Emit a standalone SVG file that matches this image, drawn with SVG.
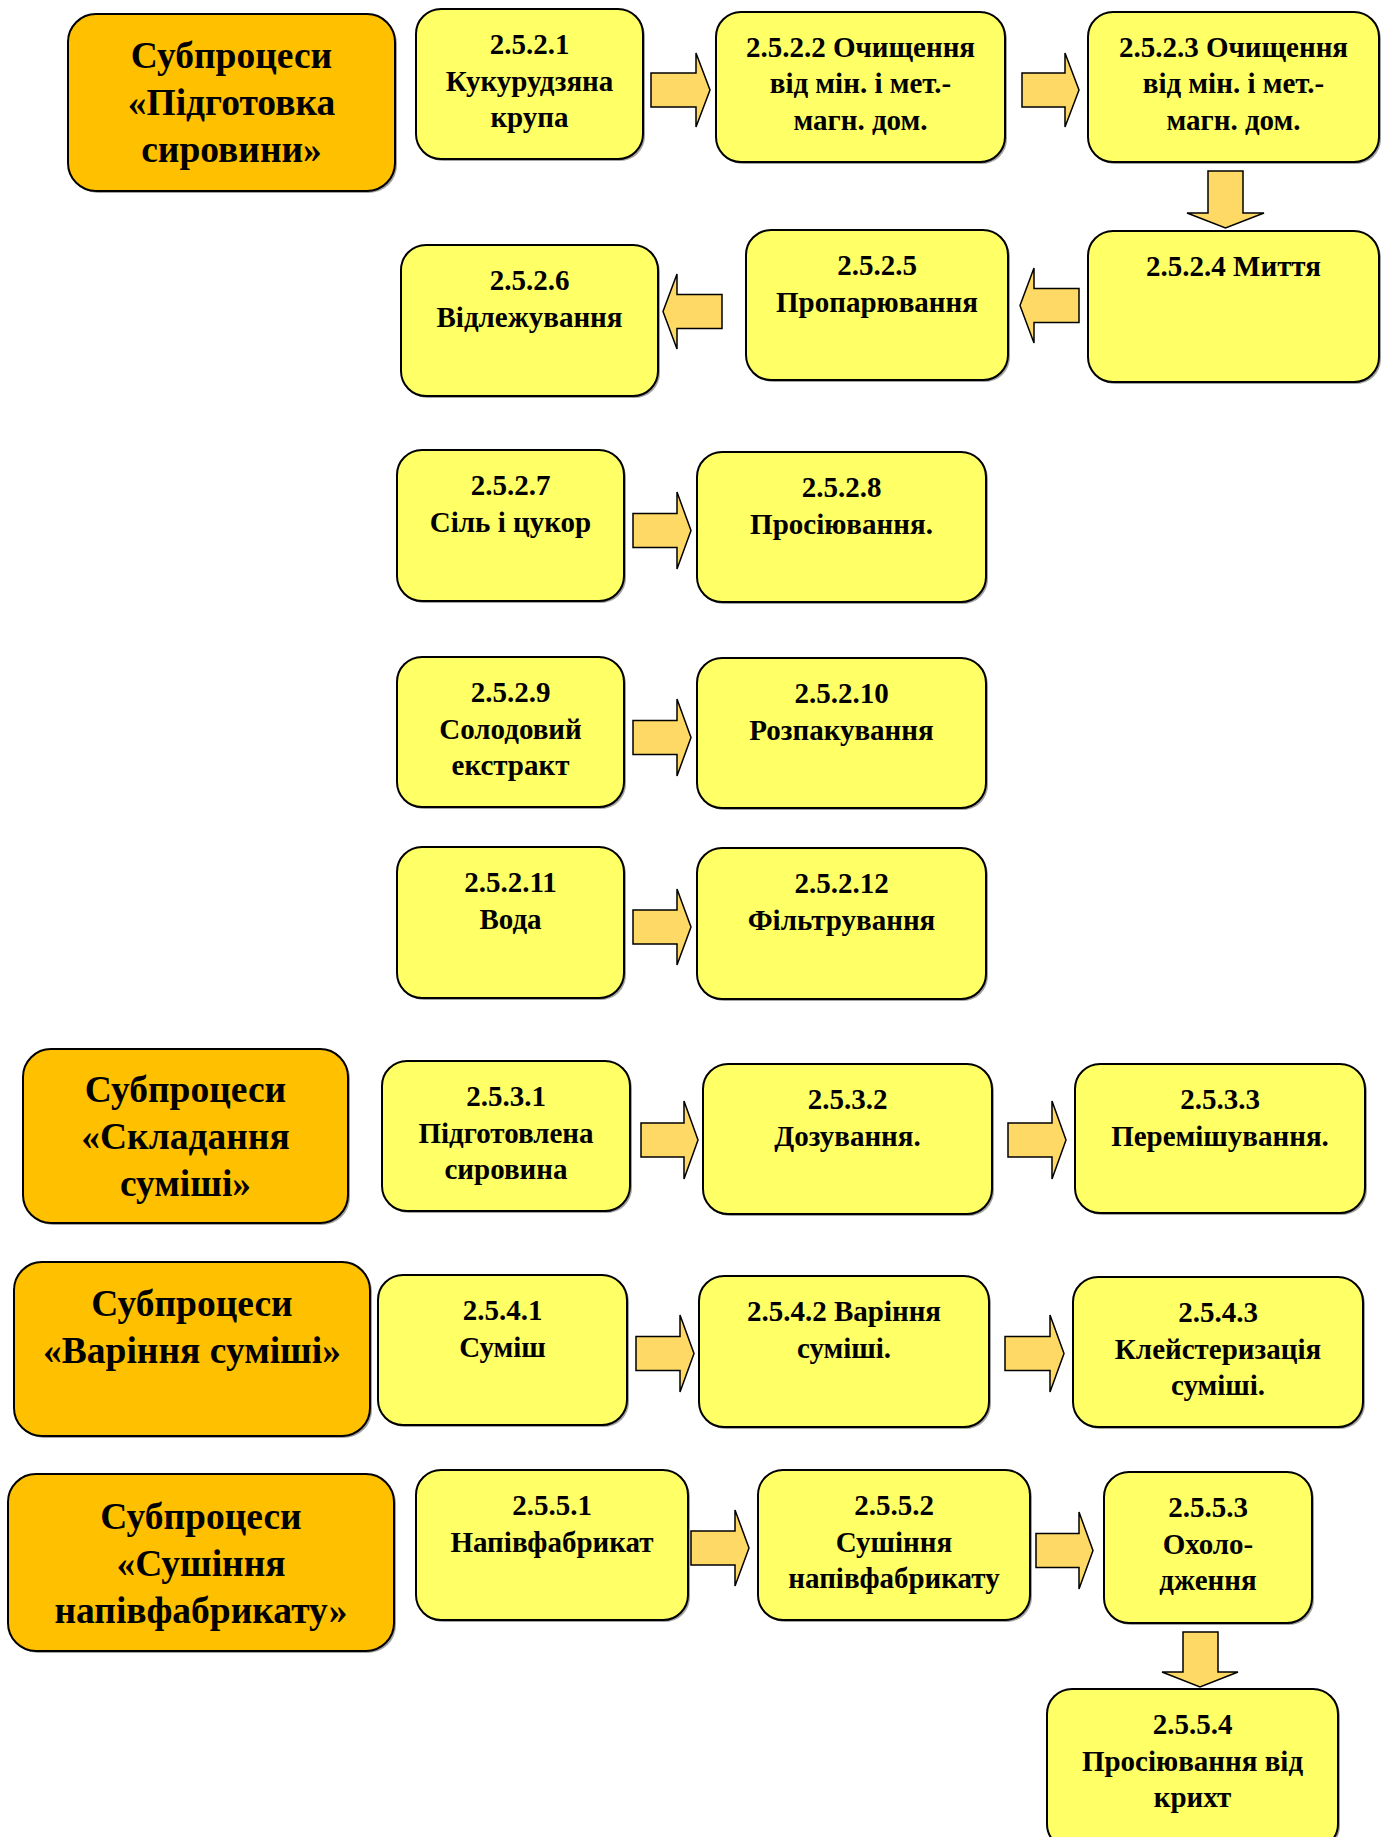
<svg xmlns="http://www.w3.org/2000/svg" width="1386" height="1837" viewBox="0 0 1386 1837">
<style>
.bg{fill:#ffffff}
.node{fill:#FFFF66;stroke:#000;stroke-width:2}
.head{fill:#FFC000;stroke:#000;stroke-width:2}
.sh{fill:#555;opacity:0.55}
.t{font-family:"Liberation Serif","Times New Roman",serif;font-weight:bold;font-size:29px;fill:#000;text-anchor:middle}
.ht{font-family:"Liberation Serif","Times New Roman",serif;font-weight:bold;font-size:37.5px;fill:#000;text-anchor:middle}
.arr{fill:#FFD966;stroke:#000;stroke-width:1.5;stroke-linejoin:miter}
</style>
<rect class="bg" x="0" y="0" width="1386" height="1837"/>

<g id="connectors">
<path class="arr" d="M651 73 H696 V53 L710 90 L696 127 V107 H651 Z"/>
<path class="arr" d="M1022 73 H1065 V53 L1079 90 L1065 127 V107 H1022 Z"/>
<path class="arr" d="M1208 171 H1243 V213 H1264 L1225.5 228 L1187 213 H1208 Z"/>
<path class="arr" d="M1079 288.5 H1034 V268 L1020 305.5 L1034 343 V322.5 H1079 Z"/>
<path class="arr" d="M722 294.5 H677 V274 L663 311.5 L677 349 V328.5 H722 Z"/>
<path class="arr" d="M633 513.5 H677 V492 L691 530.5 L677 569 V547.5 H633 Z"/>
<path class="arr" d="M633 720.5 H677 V699 L691 737.5 L677 776 V754.5 H633 Z"/>
<path class="arr" d="M633 910 H677 V889 L691 927 L677 965 V944 H633 Z"/>
<path class="arr" d="M641 1123 H684 V1101 L698 1140 L684 1179 V1157 H641 Z"/>
<path class="arr" d="M1008 1123 H1052 V1101 L1066 1140 L1052 1179 V1157 H1008 Z"/>
<path class="arr" d="M636 1336.5 H680 V1315 L694 1353.5 L680 1392 V1370.5 H636 Z"/>
<path class="arr" d="M1005 1336.5 H1050 V1315 L1064 1353.5 L1050 1392 V1370.5 H1005 Z"/>
<path class="arr" d="M691 1531 H735 V1510 L749 1548 L735 1586 V1565 H691 Z"/>
<path class="arr" d="M1036 1533.5 H1079 V1512 L1093 1550.5 L1079 1589 V1567.5 H1036 Z"/>
<path class="arr" d="M1183 1632 H1218 V1672 H1238 L1200 1687 L1162 1672 H1183 Z"/>
</g>

<g id="h1">
<rect class="sh" x="70" y="16" width="327" height="177" rx="28"/>
<rect class="head" x="68" y="14" width="327" height="177" rx="28"/>
<text class="ht"><tspan x="231.5" y="68">Субпроцеси</tspan><tspan x="231.5" y="115">«Підготовка</tspan><tspan x="231.5" y="162">сировини»</tspan></text>
</g>
<g id="n2521">
<rect class="sh" x="418" y="11" width="227" height="150" rx="25"/>
<rect class="node" x="416" y="9" width="227" height="150" rx="25"/>
<text class="t"><tspan x="529.5" y="54">2.5.2.1</tspan><tspan x="529.5" y="91">Кукурудзяна</tspan><tspan x="529.5" y="127">крупа</tspan></text>
</g>
<g id="n2522">
<rect class="sh" x="718" y="14" width="289" height="150" rx="25"/>
<rect class="node" x="716" y="12" width="289" height="150" rx="25"/>
<text class="t"><tspan x="860.5" y="57">2.5.2.2 Очищення</tspan><tspan x="860.5" y="93">від мін. і мет.-</tspan><tspan x="860.5" y="130">магн. дом.</tspan></text>
</g>
<g id="n2523">
<rect class="sh" x="1090" y="14" width="291" height="150" rx="25"/>
<rect class="node" x="1088" y="12" width="291" height="150" rx="25"/>
<text class="t"><tspan x="1233.5" y="57">2.5.2.3 Очищення</tspan><tspan x="1233.5" y="93">від мін. і мет.-</tspan><tspan x="1233.5" y="130">магн. дом.</tspan></text>
</g>
<g id="n2524">
<rect class="sh" x="1090" y="233" width="291" height="151" rx="25"/>
<rect class="node" x="1088" y="231" width="291" height="151" rx="25"/>
<text class="t"><tspan x="1233.5" y="276">2.5.2.4 Миття</tspan></text>
</g>
<g id="n2525">
<rect class="sh" x="748" y="232" width="262" height="150" rx="25"/>
<rect class="node" x="746" y="230" width="262" height="150" rx="25"/>
<text class="t"><tspan x="877" y="275">2.5.2.5</tspan><tspan x="877" y="312">Пропарювання</tspan></text>
</g>
<g id="n2526">
<rect class="sh" x="403" y="247" width="257" height="151" rx="25"/>
<rect class="node" x="401" y="245" width="257" height="151" rx="25"/>
<text class="t"><tspan x="529.5" y="290">2.5.2.6</tspan><tspan x="529.5" y="327">Відлежування</tspan></text>
</g>
<g id="n2527">
<rect class="sh" x="399" y="452" width="227" height="151" rx="25"/>
<rect class="node" x="397" y="450" width="227" height="151" rx="25"/>
<text class="t"><tspan x="510.5" y="495">2.5.2.7</tspan><tspan x="510.5" y="532">Сіль і цукор</tspan></text>
</g>
<g id="n2528">
<rect class="sh" x="699" y="454" width="289" height="150" rx="25"/>
<rect class="node" x="697" y="452" width="289" height="150" rx="25"/>
<text class="t"><tspan x="841.5" y="497">2.5.2.8</tspan><tspan x="841.5" y="534">Просіювання.</tspan></text>
</g>
<g id="n2529">
<rect class="sh" x="399" y="659" width="227" height="150" rx="25"/>
<rect class="node" x="397" y="657" width="227" height="150" rx="25"/>
<text class="t"><tspan x="510.5" y="702">2.5.2.9</tspan><tspan x="510.5" y="739">Солодовий</tspan><tspan x="510.5" y="775">екстракт</tspan></text>
</g>
<g id="n25210">
<rect class="sh" x="699" y="660" width="289" height="150" rx="25"/>
<rect class="node" x="697" y="658" width="289" height="150" rx="25"/>
<text class="t"><tspan x="841.5" y="703">2.5.2.10</tspan><tspan x="841.5" y="740">Розпакування</tspan></text>
</g>
<g id="n25211">
<rect class="sh" x="399" y="849" width="227" height="151" rx="25"/>
<rect class="node" x="397" y="847" width="227" height="151" rx="25"/>
<text class="t"><tspan x="510.5" y="892">2.5.2.11</tspan><tspan x="510.5" y="929">Вода</tspan></text>
</g>
<g id="n25212">
<rect class="sh" x="699" y="850" width="289" height="151" rx="25"/>
<rect class="node" x="697" y="848" width="289" height="151" rx="25"/>
<text class="t"><tspan x="841.5" y="893">2.5.2.12</tspan><tspan x="841.5" y="930">Фільтрування</tspan></text>
</g>

<g id="h2">
<rect class="sh" x="25" y="1051" width="325" height="174" rx="28"/>
<rect class="head" x="23" y="1049" width="325" height="174" rx="28"/>
<text class="ht"><tspan x="185.5" y="1102">Субпроцеси</tspan><tspan x="185.5" y="1149">«Складання</tspan><tspan x="185.5" y="1196">суміші»</tspan></text>
</g>
<g id="n2531">
<rect class="sh" x="384" y="1063" width="248" height="150" rx="25"/>
<rect class="node" x="382" y="1061" width="248" height="150" rx="25"/>
<text class="t"><tspan x="506" y="1106">2.5.3.1</tspan><tspan x="506" y="1143">Підготовлена</tspan><tspan x="506" y="1179">сировина</tspan></text>
</g>
<g id="n2532">
<rect class="sh" x="705" y="1066" width="289" height="150" rx="25"/>
<rect class="node" x="703" y="1064" width="289" height="150" rx="25"/>
<text class="t"><tspan x="847.5" y="1109">2.5.3.2</tspan><tspan x="847.5" y="1146">Дозування.</tspan></text>
</g>
<g id="n2533">
<rect class="sh" x="1077" y="1066" width="290" height="149" rx="25"/>
<rect class="node" x="1075" y="1064" width="290" height="149" rx="25"/>
<text class="t"><tspan x="1220" y="1109">2.5.3.3</tspan><tspan x="1220" y="1146">Перемішування.</tspan></text>
</g>

<g id="h3">
<rect class="sh" x="16" y="1264" width="356" height="174" rx="28"/>
<rect class="head" x="14" y="1262" width="356" height="174" rx="28"/>
<text class="ht"><tspan x="192" y="1316">Субпроцеси</tspan><tspan x="192" y="1363">«Варіння суміші»</tspan></text>
</g>
<g id="n2541">
<rect class="sh" x="380" y="1277" width="249" height="150" rx="25"/>
<rect class="node" x="378" y="1275" width="249" height="150" rx="25"/>
<text class="t"><tspan x="502.5" y="1320">2.5.4.1</tspan><tspan x="502.5" y="1357">Суміш</tspan></text>
</g>
<g id="n2542">
<rect class="sh" x="701" y="1278" width="290" height="151" rx="25"/>
<rect class="node" x="699" y="1276" width="290" height="151" rx="25"/>
<text class="t"><tspan x="844" y="1321">2.5.4.2 Варіння</tspan><tspan x="844" y="1358">суміші.</tspan></text>
</g>
<g id="n2543">
<rect class="sh" x="1075" y="1279" width="290" height="150" rx="25"/>
<rect class="node" x="1073" y="1277" width="290" height="150" rx="25"/>
<text class="t"><tspan x="1218" y="1322">2.5.4.3</tspan><tspan x="1218" y="1359">Клейстеризація</tspan><tspan x="1218" y="1395">суміші.</tspan></text>
</g>

<g id="h4">
<rect class="sh" x="10" y="1476" width="386" height="177" rx="28"/>
<rect class="head" x="8" y="1474" width="386" height="177" rx="28"/>
<text class="ht"><tspan x="201" y="1529">Субпроцеси</tspan><tspan x="201" y="1576">«Сушіння</tspan><tspan x="201" y="1623">напівфабрикату»</tspan></text>
</g>
<g id="n2551">
<rect class="sh" x="418" y="1472" width="272" height="150" rx="25"/>
<rect class="node" x="416" y="1470" width="272" height="150" rx="25"/>
<text class="t"><tspan x="552" y="1515">2.5.5.1</tspan><tspan x="552" y="1552">Напівфабрикат</tspan></text>
</g>
<g id="n2552">
<rect class="sh" x="760" y="1472" width="272" height="150" rx="25"/>
<rect class="node" x="758" y="1470" width="272" height="150" rx="25"/>
<text class="t"><tspan x="894" y="1515">2.5.5.2</tspan><tspan x="894" y="1552">Сушіння</tspan><tspan x="894" y="1588">напівфабрикату</tspan></text>
</g>
<g id="n2553">
<rect class="sh" x="1106" y="1474" width="208" height="151" rx="25"/>
<rect class="node" x="1104" y="1472" width="208" height="151" rx="25"/>
<text class="t"><tspan x="1208" y="1517">2.5.5.3</tspan><tspan x="1208" y="1554">Охоло-</tspan><tspan x="1208" y="1590">дження</tspan></text>
</g>
<g id="n2554">
<rect class="sh" x="1049" y="1691" width="291" height="160" rx="25"/>
<rect class="node" x="1047" y="1689" width="291" height="160" rx="25"/>
<text class="t"><tspan x="1192.5" y="1734">2.5.5.4</tspan><tspan x="1192.5" y="1771">Просіювання від</tspan><tspan x="1192.5" y="1807">крихт</tspan></text>
</g>
</svg>
